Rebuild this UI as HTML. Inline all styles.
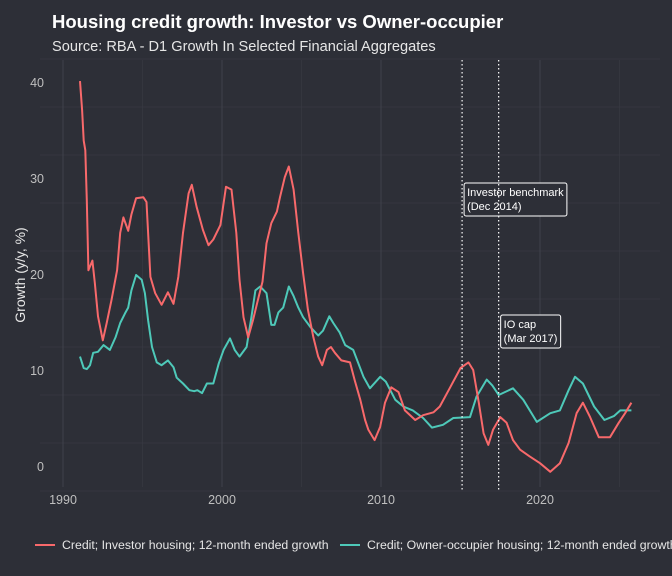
<!DOCTYPE html>
<html><head><meta charset="utf-8"><style>
body{margin:0;background:#2d2f37;}
svg{display:block;font-family:"Liberation Sans",Arial,sans-serif;}
</style></head><body>
<svg id="c" width="672" height="576">
<rect x="0" y="0" width="672" height="576" fill="#2d2f37"/>
<text x="52" y="28" fill="#ffffff" font-size="18.5" font-weight="bold">Housing credit growth: Investor vs Owner-occupier</text>
<text x="52" y="51" fill="#e6e6e6" font-size="14.6">Source: RBA - D1 Growth In Selected Financial Aggregates</text>
<text transform="translate(25,275) rotate(-90)" text-anchor="middle" fill="#e6e6e6" font-size="14">Growth (y/y, %)</text>
<g id="grid"></g><g id="ticks"></g><g id="series"></g><g id="annot"></g>
<g>
<line x1="35" y1="545" x2="55" y2="545" stroke="#f8696b" stroke-width="2"/>
<text x="62" y="549" fill="#e6e6e6" font-size="12.3">Credit; Investor housing; 12-month ended growth</text>
<line x1="340" y1="545" x2="360" y2="545" stroke="#4ec9b9" stroke-width="2"/>
<text x="367" y="549" fill="#e6e6e6" font-size="12.3">Credit; Owner-occupier housing; 12-month ended growth</text>
</g>
</svg>
<script>
const invYears=[1991.07,1991.2,1991.3,1991.4,1991.5,1991.6,1991.85,1992.0,1992.2,1992.5,1992.75,1993.05,1993.4,1993.6,1993.8,1994.1,1994.3,1994.6,1995.05,1995.25,1995.5,1995.8,1996.2,1996.6,1996.95,1997.25,1997.55,1997.9,1998.1,1998.4,1998.8,1999.15,1999.45,1999.9,2000.25,2000.6,2000.9,2001.1,2001.35,2001.65,2001.95,2002.3,2002.55,2002.8,2003.1,2003.45,2003.65,2003.95,2004.2,2004.5,2004.8,2005.1,2005.4,2005.75,2006.05,2006.3,2006.6,2006.85,2007.1,2007.5,2008.05,2008.35,2008.7,2009.0,2009.2,2009.6,2009.95,2010.25,2010.65,2011.1,2011.5,2012.15,2012.65,2013.3,2013.7,2014.35,2015.0,2015.5,2015.8,2016.15,2016.45,2016.75,2017.05,2017.5,2017.9,2018.3,2018.75,2019.35,2020.0,2020.65,2021.25,2021.8,2022.3,2022.7,2023.15,2023.7,2024.4,2024.95,2025.35,2025.75];
const invValues=[40.2,37.2,34,33,27.8,20.5,21.5,19.2,15.7,13.2,15,17.4,20.5,24.4,26,24.6,26.3,28,28.1,27.6,19.8,18.1,16.9,18.2,17,19.8,24.4,28.5,29.4,27.1,24.7,23.1,23.7,25.2,29.2,28.9,24.4,19.5,15.6,13.5,15.3,17.7,19.3,23.3,25.4,26.6,28.1,30.2,31.3,28.9,24.4,20.2,16.4,13.5,11.5,10.6,12.2,12.5,11.9,11.1,10.9,9,7,4.9,3.9,2.8,4.2,6.7,8.3,7.8,5.9,4.9,5.4,5.7,6.3,8.3,10.3,10.9,10.1,6.7,3.5,2.3,3.9,5.2,4.6,2.8,1.8,1.1,0.4,-0.5,0.4,2.5,5.6,6.7,5.2,3.1,3.1,4.6,5.6,6.7];
const ownYears=[1991.07,1991.3,1991.5,1991.7,1991.9,1992.2,1992.55,1992.95,1993.3,1993.6,1993.9,1994.1,1994.3,1994.6,1994.95,1995.15,1995.35,1995.6,1995.9,1996.2,1996.6,1996.95,1997.15,1997.55,1997.95,1998.25,1998.45,1998.75,1999.05,1999.45,1999.8,2000.1,2000.5,2000.8,2001.1,2001.55,2001.85,2002.1,2002.4,2002.8,2003.1,2003.3,2003.55,2003.85,2004.2,2004.5,2004.8,2005.1,2005.55,2006.05,2006.35,2006.75,2007.0,2007.4,2007.75,2008.25,2008.9,2009.3,2009.95,2010.3,2010.9,2011.4,2012.0,2012.65,2013.2,2013.9,2014.55,2015.6,2016.0,2016.65,2017.0,2017.4,2018.3,2018.95,2019.8,2020.65,2021.25,2021.8,2022.2,2022.7,2023.4,2024.05,2024.65,2025.05,2025.75];
const ownValues=[11.5,10.3,10.2,10.6,11.9,12,12.7,12.2,13.5,15,16,16.6,18.4,20,19.5,18.1,15.3,12.5,10.9,10.6,11.1,10.4,9.3,8.7,8,7.9,8,7.7,8.7,8.7,10.8,12.2,13.4,12.2,11.5,12.5,15.6,18.4,18.8,18.1,14.8,14.8,16.1,16.6,18.8,17.8,16.6,15.6,14.6,13.7,14.2,15.7,15,14,12.7,12.2,9.4,8.2,9.4,8.9,7,6.3,5.9,5.1,4.1,4.4,5.1,5.2,7.3,9.1,8.5,7.5,8.2,7,4.7,5.6,5.9,8,9.4,8.7,6.3,4.9,5.3,5.9,5.9];
const yTicks=[0,10,20,30,40];
const xTicks=[1990,2000,2010,2020];
const events=[2015.1,2017.4];
const eventLabels=[["Investor benchmark","(Dec 2014)"],["IO cap","(Mar 2017)"]];
const eventLabelY=[28.75,15];

const X=yr=>63+(yr-1990)*15.9;
const Y=v=>467-v*9.6;
const NS="http://www.w3.org/2000/svg";
function mk(tag,attrs,parent){const e=document.createElementNS(NS,tag);for(const k in attrs)e.setAttribute(k,attrs[k]);parent.appendChild(e);return e;}
const grid=document.getElementById('grid'),ticks=document.getElementById('ticks'),series=document.getElementById('series'),annot=document.getElementById('annot');
for(let v=-2.5;v<=42.5;v+=5){const minor=(v%10)!==0;
 const l=mk('line',{x1:40,x2:660,y1:Y(v),y2:Y(v),stroke:minor?'#383a43':'#40424b','stroke-width':minor?0.7:1},grid);
 
 }
for(let yr=1985;yr<=2030;yr+=5){const minor=(yr%10)!==0;const x=X(yr);if(x<40||x>660)continue;
 const l=mk('line',{x1:x,x2:x,y1:60,y2:487,stroke:minor?'#383a43':'#40424b','stroke-width':minor?0.7:1},grid);
 
 }
yTicks.forEach(v=>{const t=mk('text',{x:44,y:Y(v)+4,'text-anchor':'end',fill:'#bfbfbf','font-size':12.5},ticks);t.textContent=v;
 
 });
xTicks.forEach(v=>{const t=mk('text',{x:X(v),y:504,'text-anchor':'middle',fill:'#bfbfbf','font-size':12.5},ticks);t.textContent=v;
 
 });
function line(xs,vs,color,name){const p=mk('polyline',{points:xs.map((x,i)=>X(x).toFixed(1)+','+Y(vs[i]).toFixed(1)).join(' '),fill:'none',stroke:color,'stroke-width':2,'stroke-linejoin':'round'},series);
 
 }
line(ownYears,ownValues,'#4ec9b9','owner-occupier-line');
line(invYears,invValues,'#f8696b','investor-line');
events.forEach((e,i)=>{const x=X(e);
 const l=mk('line',{x1:x,x2:x,y1:60,y2:492,stroke:'#ffffff','stroke-width':1.2,'stroke-dasharray':'1.5,2.5'},annot);
 
 
 const lab=eventLabels[i];const w=lab[0].length*5.6+2;const y0=Y(eventLabelY[i])-8;
 const r=mk('rect',{x:x+2,y:y0,width:Math.max(w,60),height:33,rx:2,fill:'#2d2f37',stroke:'#ffffff','stroke-width':1},annot);
 
 
 lab.forEach((s,j)=>{const t=mk('text',{x:x+5,y:y0+13+j*14,fill:'#ffffff','font-size':11},annot);t.textContent=s;
  
  });});
</script>
</body></html>
